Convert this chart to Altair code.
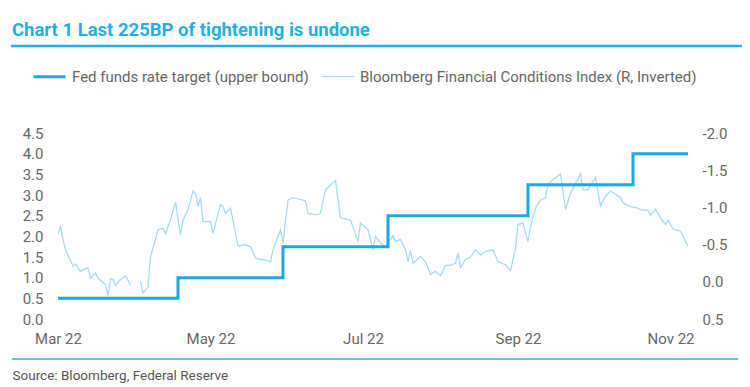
import altair as alt
import pandas as pd

FED = "Fed funds rate target (upper bound)"
FCI = "Bloomberg Financial Conditions Index (R, Inverted)"
TITLE = "Chart 1 Last 225BP of tightening is undone"
SOURCE = "Source: Bloomberg, Federal Reserve"

fed_dates = ["2022-03-17", "2022-05-04", "2022-06-15", "2022-07-27",
             "2022-09-21", "2022-11-02", "2022-11-24"]
fed_rate = [0.5, 1.0, 1.75, 2.5, 3.25, 4.0, 4.0]

fci_dates = [
    "2022-03-17", "2022-03-18", "2022-03-19", "2022-03-20", "2022-03-23", "2022-03-24",
    "2022-03-26", "2022-03-27", "2022-03-29", "2022-03-30", "2022-04-01", "2022-04-02",
    "2022-04-05", "2022-04-06", "2022-04-07", "2022-04-08", "2022-04-09", "2022-04-11",
    "2022-04-13", "2022-04-14", "2022-04-15", "2022-04-17", "2022-04-19", "2022-04-20",
    "2022-04-22", "2022-04-23", "2022-04-25", "2022-04-26", "2022-04-28", "2022-04-29",
    "2022-05-01", "2022-05-03", "2022-05-05", "2022-05-06", "2022-05-08", "2022-05-10",
    "2022-05-11", "2022-05-12", "2022-05-13", "2022-05-14", "2022-05-17", "2022-05-18",
    "2022-05-21", "2022-05-22", "2022-05-23", "2022-05-25", "2022-05-26", "2022-05-28",
    "2022-05-31", "2022-06-02", "2022-06-04", "2022-06-06", "2022-06-07", "2022-06-10",
    "2022-06-11", "2022-06-14", "2022-06-15", "2022-06-17", "2022-06-19", "2022-06-24",
    "2022-06-25", "2022-06-28", "2022-06-30", "2022-07-02", "2022-07-06", "2022-07-08",
    "2022-07-12", "2022-07-15", "2022-07-16", "2022-07-19", "2022-07-21", "2022-07-22",
    "2022-07-24", "2022-07-26", "2022-07-28", "2022-07-29", "2022-07-30", "2022-08-01",
    "2022-08-03", "2022-08-04", "2022-08-05", "2022-08-06", "2022-08-09", "2022-08-11",
    "2022-08-13", "2022-08-15", "2022-08-17", "2022-08-19", "2022-08-21", "2022-08-23",
    "2022-08-24", "2022-08-25", "2022-08-27", "2022-08-29", "2022-08-31", "2022-09-02",
    "2022-09-04", "2022-09-07", "2022-09-09", "2022-09-12", "2022-09-14", "2022-09-16",
    "2022-09-17", "2022-09-19", "2022-09-21", "2022-09-22", "2022-09-24", "2022-09-26",
    "2022-09-28", "2022-09-29", "2022-10-01", "2022-10-04", "2022-10-06", "2022-10-08",
    "2022-10-12", "2022-10-13", "2022-10-15", "2022-10-18", "2022-10-20", "2022-10-22",
    "2022-10-24", "2022-10-28", "2022-10-29", "2022-11-01", "2022-11-04", "2022-11-05",
    "2022-11-08", "2022-11-09", "2022-11-11", "2022-11-13", "2022-11-15", "2022-11-16",
    "2022-11-18", "2022-11-21", "2022-11-22", "2022-11-24",
]
fci_values = [
    -0.65, -0.74, -0.57, -0.43, -0.21, -0.24,
    -0.14, -0.16, -0.19, -0.05, -0.12, -0.05,
    0.04, 0.19, -0.04, -0.03, 0.05, -0.03,
    -0.08, -0.02, 0.05, None, -0.01, 0.15,
    0.07, -0.34, -0.57, -0.70, -0.72, -0.65,
    -0.83, -1.07, -0.63, -0.83, -0.97, -1.22,
    -1.19, -1.01, -1.13, -0.81, -0.81, -0.65,
    -1.04, -1.01, -0.92, -0.99, -0.83, -0.48,
    -0.50, -0.47, -0.32, -0.30, -0.30, -0.27,
    -0.43, -0.70, -0.52, -1.10, -1.13, -1.09,
    -0.92, -0.90, -0.92, -1.24, -1.36, -0.86,
    -0.83, -0.54, -0.79, -0.70, -0.43, -0.61,
    -0.52, -0.47, -0.57, -0.62, -0.54, -0.57,
    -0.43, -0.27, -0.42, -0.25, -0.34, -0.27,
    -0.10, -0.14, -0.08, -0.22, -0.22, -0.25,
    -0.39, -0.19, -0.30, -0.33, -0.43, -0.36,
    -0.41, -0.43, -0.27, -0.23, -0.15, -0.45,
    -0.77, -0.79, -0.54, -0.74, -0.99, -1.10,
    -1.13, -1.31, -1.37, -1.45, -0.97, -1.19,
    -1.45, -1.24, -1.24, -1.40, -1.02, -1.15,
    -1.22, -1.13, -1.06, -1.01, -0.99, -0.97,
    -0.96, -0.89, -0.98, -0.86, -0.77, -0.83,
    -0.71, -0.68, -0.61, -0.48,
]

left_ticks = [0.0, 0.5, 1.0, 1.5, 2.0, 2.5, 3.0, 3.5, 4.0, 4.5]
right_ticks = [-2.0, -1.5, -1.0, -0.5, 0.0, 0.5]

CYAN = "#22AFE5"
FED_COLOR = "#1CA8E2"
FCI_COLOR = "#A6DBF3"
LABEL = "#666666"

fed = pd.DataFrame({"date": fed_dates, "value": fed_rate, "series": FED})
fci = pd.DataFrame({"date": fci_dates, "value": fci_values, "series": FCI})
fci["seg"] = fci["value"].isna().cumsum()
fci = fci.dropna()

def d(y, m, day):
    return alt.DateTime(year=y, month=m, date=day, utc=True)

x_ticks = [d(2022, 3, 17), d(2022, 5, 17), d(2022, 7, 17), d(2022, 9, 17), d(2022, 11, 17)]

color_scale = alt.Scale(domain=[FED, FCI], range=[FED_COLOR, FCI_COLOR])
width_scale = alt.Scale(domain=[FED, FCI], range=[3.0, 1.3])
legend = alt.Legend(
    title=None, orient="none", legendX=-26, legendY=-74, direction="horizontal",
    symbolType="stroke", symbolSize=1024, labelFontSize=15, labelColor=LABEL,
    labelFont="Roboto", labelLimit=600, columnPadding=10, labelOffset=5, padding=0,
)

x_enc = alt.X(
    "date:T",
    scale=alt.Scale(type="utc", domain=[d(2022, 3, 17), d(2022, 11, 24)]),
    axis=alt.Axis(
        values=x_ticks, format="%b %y", labelFlush=False, ticks=False, tickSize=0,
        domain=False, grid=False, labelPadding=12, labelFontSize=15, labelColor=LABEL,
        labelFont="Roboto", title=SOURCE, titleX=-46, titleY=56, titleAlign="left",
        titleAnchor="start", titleBaseline="middle", titleFontSize=13.5,
        titleFontWeight="normal", titleColor="#555555", titleFont="Roboto",
    ),
)

minus_fix = "replace(format(datum.value, '.1f'), '\u2212', '-')"

fci_line = alt.Chart(fci).mark_line().encode(
    x=x_enc,
    y=alt.Y(
        "value:Q",
        scale=alt.Scale(domain=[-2.0, 0.5], reverse=True, nice=False, zero=False),
        axis=alt.Axis(
            orient="right", values=right_ticks, labelExpr=minus_fix, ticks=False,
            tickSize=0, domain=False, grid=False, labelPadding=14, labelFontSize=15,
            labelColor=LABEL, labelFont="Roboto", title=None,
        ),
    ),
    color=alt.Color("series:N", scale=color_scale, legend=legend),
    strokeWidth=alt.StrokeWidth("series:N", scale=width_scale, legend=legend),
    detail="seg:N",
)

fed_line = alt.Chart(fed).mark_line(interpolate="step-after").encode(
    x=x_enc,
    y=alt.Y(
        "value:Q",
        scale=alt.Scale(domain=[0, 4.5], nice=False),
        axis=alt.Axis(
            orient="left", values=left_ticks, labelExpr=minus_fix, ticks=False,
            tickSize=0, domain=False, grid=False, labelPadding=15, labelFontSize=15,
            labelColor=LABEL, labelFont="Roboto", title=None,
        ),
    ),
    color=alt.Color("series:N", scale=color_scale, legend=legend),
    strokeWidth=alt.StrokeWidth("series:N", scale=width_scale, legend=legend),
)

one = pd.DataFrame({"k": [0]})
top_rule = alt.Chart(one).mark_rule(color=CYAN, strokeWidth=2.5).encode(
    x=alt.value(-47), x2=alt.value(685), y=alt.value(-87)
)
bottom_rule = alt.Chart(one).mark_rule(color=CYAN, strokeWidth=1.5).encode(
    x=alt.value(-46), x2=alt.value(680), y=alt.value(226)
)

chart = (
    alt.layer(top_rule, bottom_rule, fci_line, fed_line)
    .resolve_scale(y="independent")
    .properties(
        width=630,
        height=186,
        autosize=alt.AutoSizeParams(type="none"),
        padding={"left": 50, "top": 125, "right": 54, "bottom": 64},
        title=alt.Title(
            TITLE, anchor="start", frame="group", dx=-46, offset=5, fontSize=18.5,
            fontWeight="bold", color=CYAN, font="Roboto",
        ),
    )
    .configure(font="Roboto")
    .configure_view(strokeWidth=0)
)

chart.save("out.html", embed_options={"renderer": "svg", "actions": False})
